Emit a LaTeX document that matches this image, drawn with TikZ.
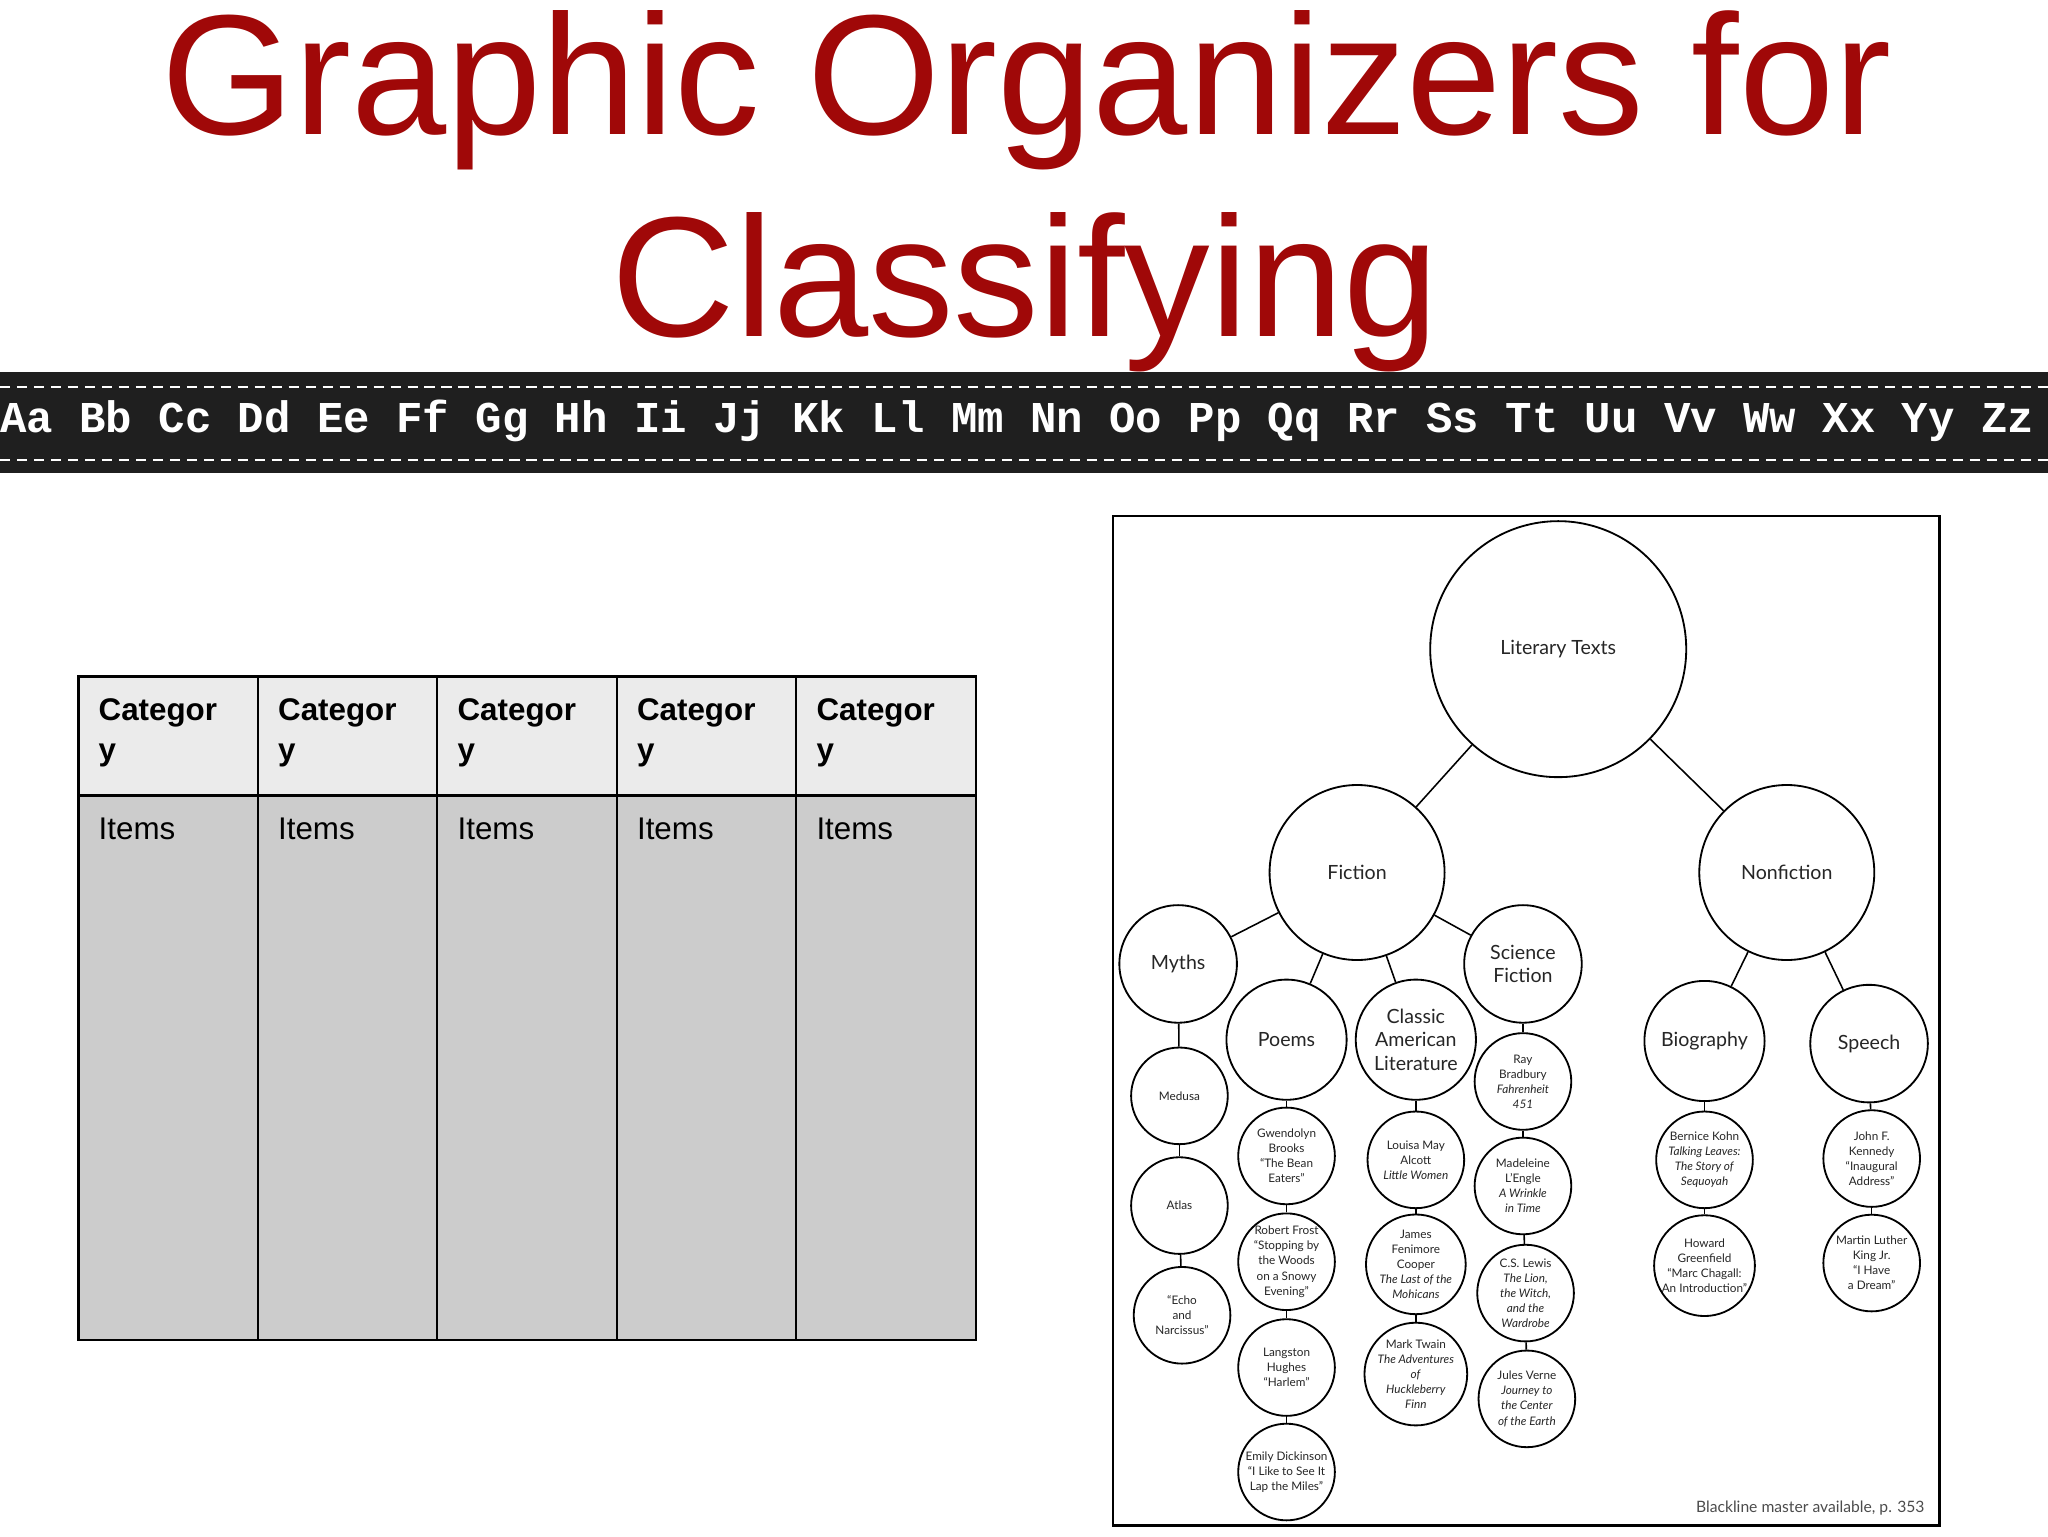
\documentclass[tikz,border=0pt]{standalone}
\usepackage{fontspec}
\setmainfont{Liberation Sans}
\newfontfamily\treefont{Lato}
\newfontfamily\bandfont{Liberation Mono}
\definecolor{titlered}{HTML}{A00808}
\definecolor{hdr}{HTML}{EBEBEB}
\definecolor{bodyg}{HTML}{CCCCCC}
\begin{document}
\begin{tikzpicture}[x=1pt,y=-1pt,
  cn/.style={circle,draw,line width=1.4pt,inner sep=0pt,align=center,text=black!85},
  big/.style={cn,font=\treefont\fontsize{15}{18}\selectfont},
  sm/.style={cn,minimum size=74pt,font=\treefont\fontsize{9}{11.5}\selectfont},
  tl/.style={line width=1.2pt},
  hd/.style={anchor=north west,align=left,font=\bfseries\fontsize{24}{31}\selectfont},
  it/.style={anchor=north west,font=\fontsize{24}{28}\selectfont}]
\useasboundingbox (0,0) rectangle (1568,1176);
\fill[white] (0,0) rectangle (1568,1176);
% title
\node[text=titlered,font=\fontsize{131}{150}\selectfont,anchor=base] (t1) at (786,103) {Graphic Organizers for};
\node[text=titlered,font=\fontsize{131}{150}\selectfont,anchor=base] (t2) at (785,258) {Classifying};
% band
\fill[black!88] (0,285) rectangle (1568,362);
\draw[white,line width=1.5pt,dash pattern=on 8pt off 5pt] (0,296) -- (1568,296);
\draw[white,line width=1.5pt,dash pattern=on 8pt off 5pt] (0,352) -- (1568,352);
\node[white,font=\bandfont\bfseries\fontsize{33.7}{40}\selectfont,anchor=west,inner sep=0pt] (band) at (0,322) {Aa Bb Cc Dd Ee Ff Gg Hh Ii Jj Kk Ll Mm Nn Oo Pp Qq Rr Ss Tt Uu Vv Ww Xx Yy Zz};
% table
\fill[hdr] (60,518) rectangle (747,609);
\fill[bodyg] (60,609) rectangle (747,1026);
\draw[line width=1.8pt] (60,518) rectangle (747,1026);
\draw[line width=1.8pt] (60,609) -- (747,609);
\foreach \i in {1,2,3,4} {\draw[line width=1.8pt] (60+137.4*\i,518) -- (60+137.4*\i,1026);}
\foreach \i in {0,1,2,3,4} {
  \node[hd] (h\i) at (72+137.4*\i,531) {Categor\\y};
  \node[it] (i\i) at (72+137.4*\i,623) {Items};
}
% tree frame
\draw[line width=1.8pt] (852,395) rectangle (1485,1168);
\node[big,minimum size=196pt] (lit) at (1193,497) {Literary Texts};
\node[big,minimum size=134pt] (fic) at (1039,668) {Fiction};
\node[big,minimum size=134pt] (non) at (1368,668) {Nonfiction};
\node[big,minimum size=90pt] (myth) at (902,738) {Myths};
\node[big,minimum size=92pt] (poem) at (985,796) {Poems};
\node[big,minimum size=92pt] (cal) at (1084,796) {Classic\\American\\Literature};
\node[big,minimum size=90pt] (sf) at (1166,738) {Science\\Fiction};
\node[big,minimum size=92pt] (bio) at (1305,797) {Biography};
\node[big,minimum size=90pt] (sp) at (1431,799) {Speech};
\node[sm] (m1) at (903,839) {Medusa};
\node[sm] (m2) at (903,923) {Atlas};
\node[sm] (m3) at (905,1007) {“Echo\\and\\Narcissus”};
\node[sm] (p1) at (985,885) {Gwendolyn\\Brooks\\“The Bean\\Eaters”};
\node[sm] (p2) at (985,966) {Robert Frost\\“Stopping by\\the Woods\\on a Snowy\\Evening”};
\node[sm] (p3) at (985,1047) {Langston\\Hughes\\“Harlem”};
\node[sm] (p4) at (985,1127) {Emily Dickinson\\“I Like to See It\\Lap the Miles”};
\node[sm] (c1) at (1084,888) {Louisa May\\Alcott\\\textit{Little Women}};
\node[sm] (c2) at (1084,968) {James\\Fenimore\\Cooper\\\textit{The Last of the}\\\textit{Mohicans}};
\node[sm] (c3) at (1084,1052) {Mark Twain\\\textit{The Adventures}\\\textit{of}\\\textit{Huckleberry}\\\textit{Finn}};
\node[sm] (s1) at (1166,828) {Ray\\Bradbury\\\textit{Fahrenheit}\\\textit{451}};
\node[sm] (s2) at (1166,908) {Madeleine\\L’Engle\\\textit{A Wrinkle}\\\textit{in Time}};
\node[sm] (s3) at (1168,990) {C.S. Lewis\\\textit{The Lion,}\\\textit{the Witch,}\\\textit{and the}\\\textit{Wardrobe}};
\node[sm] (s4) at (1169,1071) {Jules Verne\\\textit{Journey to}\\\textit{the Center}\\\textit{of the Earth}};
\node[sm] (b1) at (1305,888) {Bernice Kohn\\\textit{Talking Leaves:}\\\textit{The Story of}\\\textit{Sequoyah}};
\node[sm] (b2) at (1305,969) {Howard\\Greenfield\\“Marc Chagall:\\An Introduction”};
\node[sm] (k1) at (1433,887) {John F.\\Kennedy\\“Inaugural\\Address”};
\node[sm] (k2) at (1433,967) {Martin Luther\\King Jr.\\“I Have\\a Dream”};
\foreach \a/\b in {lit/fic,lit/non,fic/myth,fic/poem,fic/cal,fic/sf,non/bio,non/sp,
  myth/m1,m1/m2,m2/m3,poem/p1,p1/p2,p2/p3,p3/p4,cal/c1,c1/c2,c2/c3,sf/s1,s1/s2,s2/s3,s3/s4,
  bio/b1,b1/b2,sp/k1,k1/k2}
  \draw[tl] (\a) -- (\b);
\node[anchor=base east,text=black!70,font=\treefont\fontsize{12}{14}\selectfont] (foot) at (1477,1158) {Blackline master available, p. 353};
\end{tikzpicture}
\end{document}
